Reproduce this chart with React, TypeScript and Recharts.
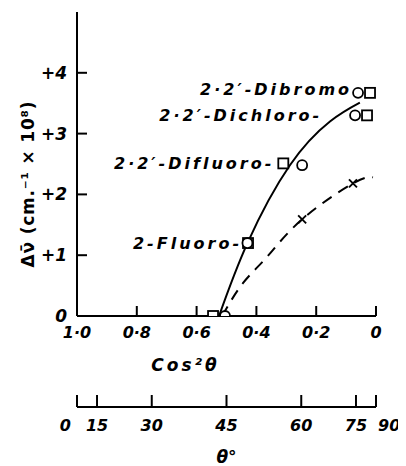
import { ComposedChart, Line, Scatter, XAxis, YAxis } from 'recharts'

// cos²θ axis runs from 1 (left) to 0 (right)
const cos2Ticks = [1, 0.8, 0.6, 0.4, 0.2, 0]
const deltaTicks = [0, 1, 2, 3, 4]
const thetaTicks = [0, 15, 30, 45, 60, 75, 90]

// solid curve (halogenated diphenyls)
const solidX = [0.525, 0.43, 0.288, 0.154, 0.054]
const solidY = [0, 1.2, 2.48, 3.2, 3.51]

// dashed curve
const dashedX = [0.515, 0.445, 0.365, 0.247, 0.077, 0.01]
const dashedY = [0, 0.54, 0.97, 1.59, 2.18, 2.28]

const circleX = [0.06, 0.07, 0.247, 0.43, 0.505]
const circleY = [3.67, 3.3, 2.48, 1.2, 0]
const squareX = [0.02, 0.03, 0.31, 0.428, 0.545]
const squareY = [3.67, 3.3, 2.51, 1.2, 0]
const crossX = [0.247, 0.077]
const crossY = [1.59, 2.18]

const compounds = ['2·2′-Dibromo', '2·2′-Dichloro-', '2·2′-Difluoro-', '2-Fluoro-']
const compoundX = [0.08, 0.18, 0.34, 0.448]
const compoundY = [3.72, 3.3, 2.51, 1.2]

const zip = (xs: number[], ys: number[]) => xs.map((x, i) => ({ x, y: ys[i] }))

const solid = zip(solidX, solidY)
const dashed = zip(dashedX, dashedY)
const circles = zip(circleX, circleY)
const squares = zip(squareX, squareY)
const crosses = zip(crossX, crossY)
const labels = compounds.map((name, i) => ({ x: compoundX[i], y: compoundY[i], name }))

const FONT = 'DejaVu Sans'
const txt = { fontFamily: FONT, fontStyle: 'italic', fontWeight: 'bold', fill: '#000' } as const

const fmtCos = (v: number) => (v === 0 ? '0' : v.toFixed(1).replace('.', '·'))
const fmtDelta = (v: number) => (v === 0 ? '0' : '+' + v)
const thetaPos = thetaTicks.map((t) => Math.cos((t * Math.PI) / 180) ** 2)
const fmtTheta = (v: number) => String(Math.round((Math.acos(Math.sqrt(Math.min(1, v))) * 180) / Math.PI))

// ticks point into the plot, labels sit outside
const CosTick = ({ x, y, payload }: any) => (
  <g>
    <line x1={x} y1={y} x2={x} y2={y - 10} stroke="#000" strokeWidth={2} />
    <text x={x} y={y + 16} textAnchor="middle" dominantBaseline="central" fontSize={16} {...txt}>
      {fmtCos(payload.value)}
    </text>
  </g>
)

const ThetaTick = ({ x, y, payload }: any) => {
  const label = fmtTheta(payload.value)
  const anchor = label === '0' ? 'end' : label === '90' ? 'start' : 'middle'
  const dx = label === '0' ? -6 : label === '90' ? 2 : 0
  return (
    <g>
      <line x1={x} y1={y} x2={x} y2={y - 12} stroke="#000" strokeWidth={2} />
      <text x={x + dx} y={y + 18} textAnchor={anchor} dominantBaseline="central" fontSize={16} {...txt}>
        {label}
      </text>
    </g>
  )
}

const DeltaTick = ({ x, y, payload }: any) => (
  <g>
    <line x1={x} y1={y} x2={x + 10} y2={y} stroke="#000" strokeWidth={2} />
    <text x={x - 10} y={y} textAnchor="end" dominantBaseline="central" fontSize={17} {...txt}>
      {fmtDelta(payload.value)}
    </text>
  </g>
)

const SquareMark = (p: any) => (
  <rect x={p.cx - 5} y={p.cy - 5} width={10} height={10} fill="#fff" stroke="#000" strokeWidth={1.8} />
)
const CircleMark = (p: any) => <circle cx={p.cx} cy={p.cy} r={5} fill="#fff" stroke="#000" strokeWidth={1.8} />
const CrossMark = (p: any) => (
  <g stroke="#000" strokeWidth={1.8}>
    <line x1={p.cx - 4} y1={p.cy - 4} x2={p.cx + 4} y2={p.cy + 4} />
    <line x1={p.cx - 4} y1={p.cy + 4} x2={p.cx + 4} y2={p.cy - 4} />
  </g>
)
const NameMark = (p: any) => (
  <text x={p.cx} y={p.cy} textAnchor="end" dominantBaseline="central" fontSize={16} letterSpacing={3} {...txt}>
    {p.payload.name}
  </text>
)

const YTitle = ({ viewBox }: any) => {
  const cx = viewBox.x + 20
  const cy = viewBox.y + viewBox.height / 2 + 20
  return (
    <text
      x={cx}
      y={cy}
      transform={`rotate(-90 ${cx} ${cy})`}
      textAnchor="middle"
      dominantBaseline="central"
      fontFamily={FONT}
      fontWeight="bold"
      fontSize={17}
      letterSpacing={0.8}
    >
      Δν̄ (cm.⁻¹ × 10⁸)
    </text>
  )
}

const CosTitle = ({ viewBox }: any) => (
  <text
    x={viewBox.x + viewBox.width / 2 - 41}
    y={viewBox.y + 49}
    textAnchor="middle"
    dominantBaseline="central"
    fontSize={17}
    letterSpacing={3}
    {...txt}
  >
    Cos²θ
  </text>
)

const ThetaTitle = ({ viewBox }: any) => (
  <text
    x={viewBox.x + viewBox.width / 2}
    y={viewBox.y + 50}
    textAnchor="middle"
    dominantBaseline="central"
    fontSize={17}
    {...txt}
  >
    θ°
  </text>
)

const axisLine = { stroke: '#000', strokeWidth: 2 }

export default function App() {
  return (
    <ComposedChart width={398} height={458} margin={{ top: 4, right: 30, bottom: 0, left: 0 }}>
      <XAxis
        xAxisId="cos"
        dataKey="x"
        type="number"
        domain={[0, 1]}
        reversed
        allowDataOverflow
        ticks={cos2Ticks}
        interval={0}
        tick={<CosTick />}
        tickLine={false}
        tickSize={0}
        tickMargin={0}
        height={91}
        axisLine={axisLine}
        label={<CosTitle />}
      />
      <XAxis
        xAxisId="theta"
        dataKey="x"
        type="number"
        domain={[0, 1]}
        reversed
        allowDataOverflow
        ticks={thetaPos}
        interval={0}
        tick={<ThetaTick />}
        tickLine={false}
        tickSize={0}
        tickMargin={0}
        height={59}
        axisLine={axisLine}
        label={<ThetaTitle />}
      />
      <XAxis
        xAxisId="top"
        orientation="top"
        type="number"
        domain={[0, 1]}
        height={0}
        tick={false}
        tickLine={false}
        axisLine={axisLine}
      />
      <YAxis
        yAxisId="d"
        dataKey="y"
        type="number"
        domain={[0, 5]}
        allowDataOverflow
        ticks={deltaTicks}
        interval={0}
        tick={<DeltaTick />}
        tickLine={false}
        tickSize={0}
        tickMargin={0}
        width={69}
        axisLine={axisLine}
        label={<YTitle />}
      />
      <YAxis
        yAxisId="right"
        orientation="right"
        type="number"
        domain={[0, 5]}
        width={0}
        tick={false}
        tickLine={false}
        axisLine={axisLine}
      />
      <Line
        xAxisId="cos"
        yAxisId="d"
        data={solid}
        dataKey="y"
        type="natural"
        stroke="#000"
        strokeWidth={2}
        dot={false}
        activeDot={false}
        isAnimationActive={false}
      />
      <Line
        xAxisId="cos"
        yAxisId="d"
        data={dashed}
        dataKey="y"
        type="natural"
        stroke="#000"
        strokeWidth={2}
        strokeDasharray="11 8"
        dot={false}
        activeDot={false}
        isAnimationActive={false}
      />
      <Scatter xAxisId="cos" yAxisId="d" data={crosses} shape={CrossMark} isAnimationActive={false} />
      <Scatter xAxisId="cos" yAxisId="d" data={squares} shape={SquareMark} isAnimationActive={false} />
      <Scatter xAxisId="cos" yAxisId="d" data={circles} shape={CircleMark} isAnimationActive={false} />
      <Scatter xAxisId="cos" yAxisId="d" data={labels} shape={NameMark} isAnimationActive={false} />
    </ComposedChart>
  )
}
